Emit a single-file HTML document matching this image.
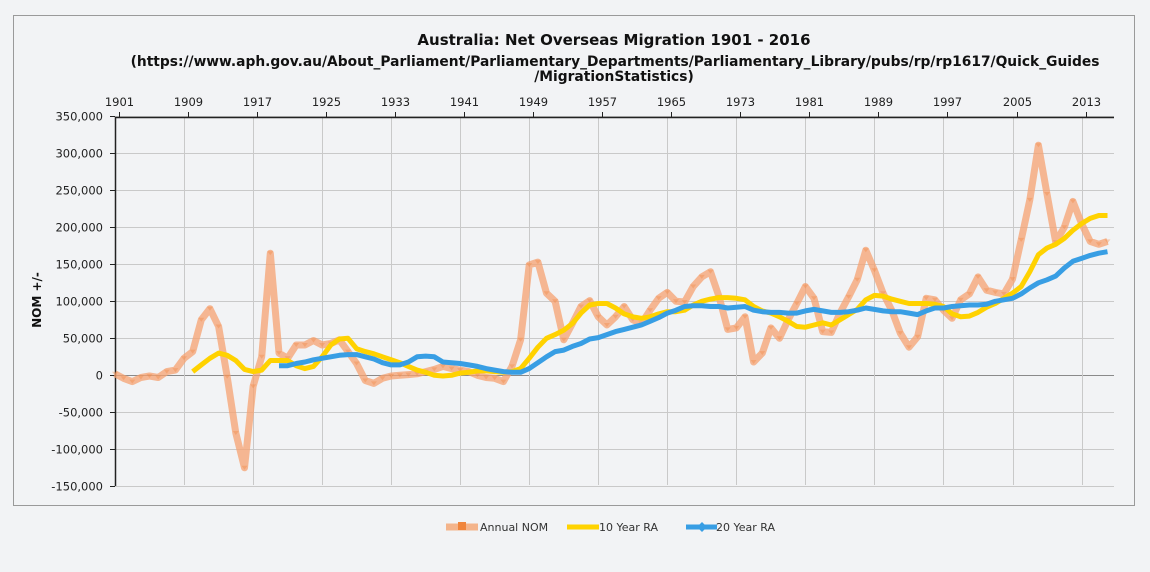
<!DOCTYPE html>
<html><head><meta charset="utf-8"><style>
body{margin:0;background:#f2f3f5;font-family:"Liberation Sans","DejaVu Sans",sans-serif;}
svg{display:block}
</style></head><body>
<svg id="chart" width="1150" height="572" xmlns="http://www.w3.org/2000/svg">
<rect x="0" y="0" width="1150" height="572" fill="#f2f3f5"/>
<rect x="13.5" y="15.5" width="1121" height="490" fill="#f2f3f5" stroke="#9a9a9a" stroke-width="1"/>
<text x="614" y="45" text-anchor="middle" font-size="15" font-weight="bold" fill="#111" font-family="DejaVu Sans, sans-serif">Australia: Net Overseas Migration 1901 - 2016</text>
<text x="615" y="66" text-anchor="middle" font-size="13.8" font-weight="bold" fill="#111" font-family="DejaVu Sans, sans-serif">(https://www.aph.gov.au/About_Parliament/Parliamentary_Departments/Parliamentary_Library/pubs/rp/rp1617/Quick_Guides</text>
<text x="614" y="81" text-anchor="middle" font-size="13.8" font-weight="bold" fill="#111" font-family="DejaVu Sans, sans-serif">/MigrationStatistics)</text>
<text transform="translate(41,300) rotate(-90)" text-anchor="middle" font-size="12" font-weight="bold" fill="#111" font-family="DejaVu Sans, sans-serif">NOM +/-</text>
<g id="grid"></g><g id="axes"></g><g id="series"></g>
<g id="legend">
 <g>
  <line x1="446" y1="527" x2="478" y2="527" stroke="#f5a878" stroke-opacity="0.85" stroke-width="7"/>
  <rect x="458" y="522" width="8" height="8" fill="#f0853c"/>
  <text x="480" y="531" font-size="11" fill="#333" font-family="DejaVu Sans, sans-serif">Annual NOM</text>
 </g>
 <g>
  <line x1="567" y1="527" x2="599" y2="527" stroke="#ffd300" stroke-width="5"/>
  <text x="599" y="531" font-size="11" fill="#333" font-family="DejaVu Sans, sans-serif">10 Year RA</text>
 </g>
 <g>
  <line x1="686" y1="527" x2="717" y2="527" stroke="#389ee4" stroke-width="5"/>
  <path d="M697 527 l5 -5 l5 5 l-5 5z" fill="#389ee4"/>
  <text x="716" y="531" font-size="11" fill="#333" font-family="DejaVu Sans, sans-serif">20 Year RA</text>
 </g>
</g>
</svg>
<script>
const annualYears=[];for(let y=1901;y<=2016;y++)annualYears.push(y);
const annualNOM=[2000,-4000,-8500,-3000,-1000,-3000,5000,7000,23000,32000,75000,90000,66000,-2000,-78000,-125000,-15000,25000,165000,30000,23000,41000,41000,47000,41000,43000,48000,32000,16000,-7000,-11000,-4000,-1000,0,1000,2000,5000,8000,12000,9000,7000,5000,0,-3000,-4000,-8500,12000,48000,149000,153000,111000,100000,48000,70000,93000,101000,79000,68000,79000,93000,75000,70000,88000,104000,112000,100000,99000,120000,133000,140000,106000,62000,64000,79000,18000,30000,64000,50000,75000,97000,120000,104000,59000,58000,84000,106000,129000,169000,142000,111000,88000,57000,38000,52000,104000,102000,88000,77000,102000,110000,133000,115000,112000,110000,130000,183000,237000,311000,245000,180000,200000,235000,205000,181000,177000,181000];
const ra10Years=[];for(let y=1910;y<=2016;y++)ra10Years.push(y);
const ra10=[5000,14000,23000,30000,27000,20000,8000,5000,7000,20000,20000,20000,13000,9000,12000,25000,41000,49000,50000,36000,32000,29000,25000,21000,17000,12000,7000,4000,0,-1000,0,3000,4000,6000,6000,5000,4000,5000,9000,23000,38000,50000,55000,61000,70000,84000,95000,97000,97000,91000,83000,79000,77000,79000,83000,86000,86000,88000,95000,100000,103000,105000,105000,104000,102000,93000,87000,84000,79000,73000,66000,65000,68000,71000,68000,75000,82000,89000,102000,108000,107000,103000,100000,97000,97000,97000,96000,93000,83000,79000,80000,85000,92000,97000,104000,111000,120000,140000,163000,172000,177000,185000,196000,205000,212000,216000,216000];
const ra20Years=[];for(let y=1920;y<=2016;y++)ra20Years.push(y);
const ra20=[13000,13000,16000,18000,21000,23000,25000,27000,28000,28000,25000,22000,17000,14000,14000,18000,25000,26000,25000,18000,17000,16000,14000,12000,9000,7000,5000,4000,4000,9000,17000,25000,32000,34000,39000,43000,49000,51000,55000,59000,62000,65000,68000,73000,78000,84000,88000,93000,94000,94000,93000,93000,91000,92000,93000,88000,86000,85000,85000,84000,84000,87000,89000,87000,85000,85000,86000,88000,91000,89000,87000,86000,86000,84000,82000,87000,91000,91000,93000,94000,95000,95000,96000,100000,102000,104000,110000,118000,125000,129000,134000,145000,154000,158000,162000,165000,167000];
const yTicks=[350000,300000,250000,200000,150000,100000,50000,0,-50000,-100000,-150000];
const xTickYears=[1901,1909,1917,1925,1933,1941,1949,1957,1965,1973,1981,1989,1997,2005,2013];

const NS='http://www.w3.org/2000/svg';
const X0=115,X1=1114,Y0=117,Y1=485;
const xs=y=>115+(y-1901)*8.63;
const ys=v=>375.3-v*(37/50000);
function mk(tag,attrs,parent){const e=document.createElementNS(NS,tag);for(const k in attrs)e.setAttribute(k,attrs[k]);parent.appendChild(e);return e;}
const grid=document.getElementById('grid'),axes=document.getElementById('axes'),series=document.getElementById('series');
yTicks.forEach(v=>{
 const y=Math.round(ys(v))+0.5;
 const g=mk('line',{x1:X0,x2:X1,y1:y,y2:y,stroke:v===0?'#8a8a8a':'#c9c9c9','stroke-width':1},grid);
 
 
 mk('line',{x1:X0-5,x2:X0,y1:y,y2:y,stroke:'#222'},axes);
 const t=mk('text',{x:103,y:y+4,'text-anchor':'end','font-size':11.5,fill:'#222','font-family':'DejaVu Sans, sans-serif'},axes);
 t.textContent=v.toLocaleString('en-US');
 
 
});
xTickYears.forEach(yr=>{
 const x=Math.round(xs(yr))+0.5;
 if(yr>1901){const g=mk('line',{x1:x,x2:x,y1:Y0,y2:Y1,stroke:'#c9c9c9'},grid);
 
 }
 const tx=x+4;
 mk('line',{x1:tx,x2:tx,y1:Y0-5,y2:Y0,stroke:'#222'},axes);
 const t=mk('text',{x:tx,y:106,'text-anchor':'middle','font-size':11.5,fill:'#222','font-family':'DejaVu Sans, sans-serif'},axes);
 t.textContent=yr;
 
 
});
mk('line',{x1:X0+0.5,x2:X0+0.5,y1:Y0,y2:Y1+1,stroke:'#222','stroke-width':1.5},axes);
mk('line',{x1:X0,x2:X1,y1:Y0+0.5,y2:Y0+0.5,stroke:'#222','stroke-width':1.5},axes);
function line(yrs,vals,color,w,op,name){
 const d=vals.map((v,i)=>(i?'L':'M')+xs(yrs[i]).toFixed(1)+' '+ys(v).toFixed(1)).join(' ');
 const p=mk('path',{d:d,fill:'none',stroke:color,'stroke-width':w,'stroke-opacity':op,'stroke-linejoin':'round'},series);
 
 
 return p;
}
line(annualYears,annualNOM,'#f5a270',7,0.75,'annual-nom-line');
annualNOM.forEach((v,i)=>{
 const m=mk('path',{d:`M${(xs(annualYears[i])-3).toFixed(1)} ${(ys(v)-2).toFixed(1)} h6 l-3 4z`,fill:'#f0853c','fill-opacity':0.35},series);
 
 
});
line(ra10Years,ra10,'#ffd200',5,1,'ten-year-ra-line');
line(ra20Years,ra20,'#389ee4',5,1,'twenty-year-ra-line');
</script>
</body></html>
